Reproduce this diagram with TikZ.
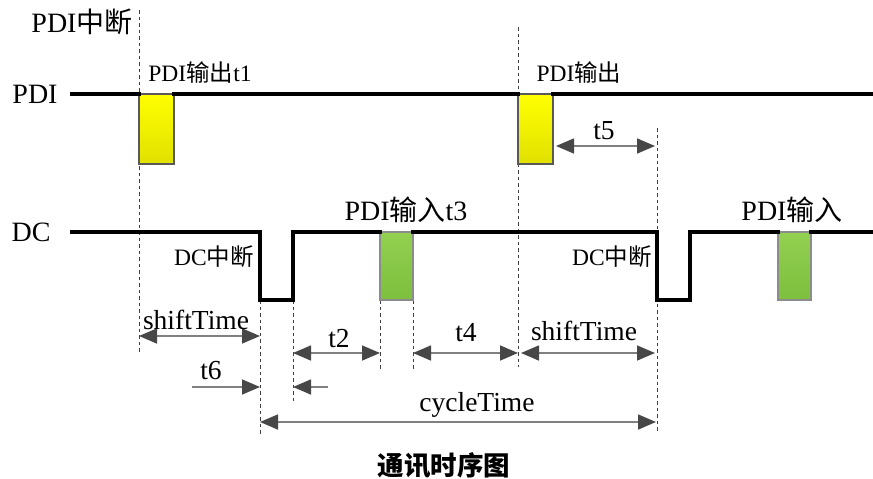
\documentclass[tikz,border=0pt]{standalone}
\usepackage{fontspec}
\setmainfont{Liberation Serif}
\newfontfamily\cjk{Noto Sans CJK SC}
\usetikzlibrary{arrows.meta}
\newcommand\zh[1]{{\cjk #1}}
\begin{document}
\begin{tikzpicture}[x=1pt,y=-1pt,
  sig/.style={line width=3.2pt, line join=miter, line cap=rect},
  guide/.style={draw=black!75, line width=0.8pt, dash pattern=on 3.5pt off 3pt},
  dim/.style={draw=black!50, line width=1.6pt, {Triangle[length=18pt,width=15pt,color=black!72]}-{Triangle[length=18pt,width=15pt,color=black!72]}},
  dimr/.style={draw=black!50, line width=1.6pt, -{Triangle[length=18pt,width=15pt,color=black!72]}},
  ybox/.style={draw=black!65, line width=1.2pt, top color=yellow, bottom color=yellow!88!black, minimum width=35pt, minimum height=70pt, inner sep=0pt, outer sep=0pt, anchor=north west},
  gbox/.style={draw=black!45, line width=1.2pt, minimum width=33pt, minimum height=68pt, inner sep=0pt, outer sep=0pt, anchor=north west},
  big/.style={font=\fontsize{28}{30}\selectfont, inner sep=0pt},
  mid/.style={font=\fontsize{27.5}{30}\selectfont, inner sep=0pt},
  small/.style={font=\fontsize{23.5}{26}\selectfont, inner sep=0pt},
]
\useasboundingbox (0,0) rectangle (873,479);
\definecolor{gtop}{HTML}{92D050}
\definecolor{gbot}{HTML}{7DBF3E}
\tikzset{gbox/.append style={top color=gtop, bottom color=gbot}}

% guides
\coordinate (g1t) at (139,10);  \coordinate (g1b) at (139,353);
\coordinate (g2t) at (518,27);  \coordinate (g2b) at (518,367);
\coordinate (g3t) at (657,128); \coordinate (g3b) at (657,432);
\coordinate (g4t) at (260,300); \coordinate (g4b) at (260,436);
\coordinate (g5t) at (293,300); \coordinate (g5b) at (293,403);
\coordinate (g6t) at (380,300); \coordinate (g6b) at (380,370);
\coordinate (g7t) at (413,300); \coordinate (g7b) at (413,371);
\foreach \i in {1,...,7}{\draw[guide] (g\i t) -- (g\i b);}

% boxes
\node[ybox] (o1) at (139,94) {};
\node[ybox] (o2) at (518,94) {};
\node[gbox] (i1) at (380,232) {};
\node[gbox] (i2) at (778,232) {};

% PDI signal
\coordinate (ps) at (72,94);
\coordinate (pe) at (873,94);
\draw[sig] (ps) -- (o1.north west);
\draw[sig] (o1.north east) -- (o2.north west);
\draw[sig] (o2.north east) -- (pe);

% DC signal
\coordinate (ds) at (72,232);
\coordinate (de) at (873,232);
\draw[sig] (ds) -- (260,232) -- (260,300) -- (293,300) -- (293,232) -- (i1.north west);
\draw[sig] (i1.north east) -- (657,232) -- (657,300) -- (690,300) -- (690,232) -- (i2.north west);
\draw[sig] (i2.north east) -- (de);

% labels
\node[big] (lpdiint) at (82,22) {PDI\zh{中断}};
\node[big] (lpdi) at (35,94) {PDI};
\node[big] (ldc) at (31,232) {DC};
\node[small] (lout1) at (200,73) {PDI\zh{输出}t1};
\node[small] (lout2) at (579,73) {PDI\zh{输出}};
\node[big] (lin1) at (406,210) {PDI\zh{输入}t3};
\node[big] (lin2) at (792,210) {PDI\zh{输入}};
\node[small, anchor=east] (ldci1) at (254,257) {DC\zh{中断}};
\node[small, anchor=east] (ldci2) at (652,257) {DC\zh{中断}};

% dimension arrows
\coordinate (a1l) at (139,336); \coordinate (a1r) at (260,336);
\draw[dim] (a1l) -- (a1r);
\node[mid] (lst1) at (196,320) {shiftTime};
\coordinate (a2l) at (293,353); \coordinate (a2r) at (380,353);
\draw[dim] (a2l) -- (a2r);
\node[mid] (lt2) at (339,339) {t2};
\coordinate (a3l) at (413,353); \coordinate (a3r) at (518,353);
\draw[dim] (a3l) -- (a3r);
\node[mid] (lt4) at (466,333) {t4};
\coordinate (a4l) at (521,353); \coordinate (a4r) at (655,353);
\draw[dim] (a4l) -- (a4r);
\node[mid] (lst2) at (584,331) {shiftTime};
\coordinate (a5l) at (556,146); \coordinate (a5r) at (655,146);
\draw[dim] (a5l) -- (a5r);
\node[mid] (lt5) at (604,131) {t5};
\coordinate (a6l) at (192,387); \coordinate (a6r) at (260,387);
\draw[dimr] (a6l) -- (a6r);
\node[mid] (lt6) at (211,371) {t6};
\coordinate (a7l) at (328,387); \coordinate (a7r) at (293,387);
\draw[dimr] (a7l) -- (a7r);
\coordinate (a8l) at (260,422); \coordinate (a8r) at (656,422);
\draw[dim] (a8l) -- (a8r);
\node[mid] (lct) at (477,405) {cycleTime};

\node[font=\cjk\bfseries\fontsize{26.5}{28}\selectfont, inner sep=0pt] (title) at (444,466) {通讯时序图};
\end{tikzpicture}
\end{document}
